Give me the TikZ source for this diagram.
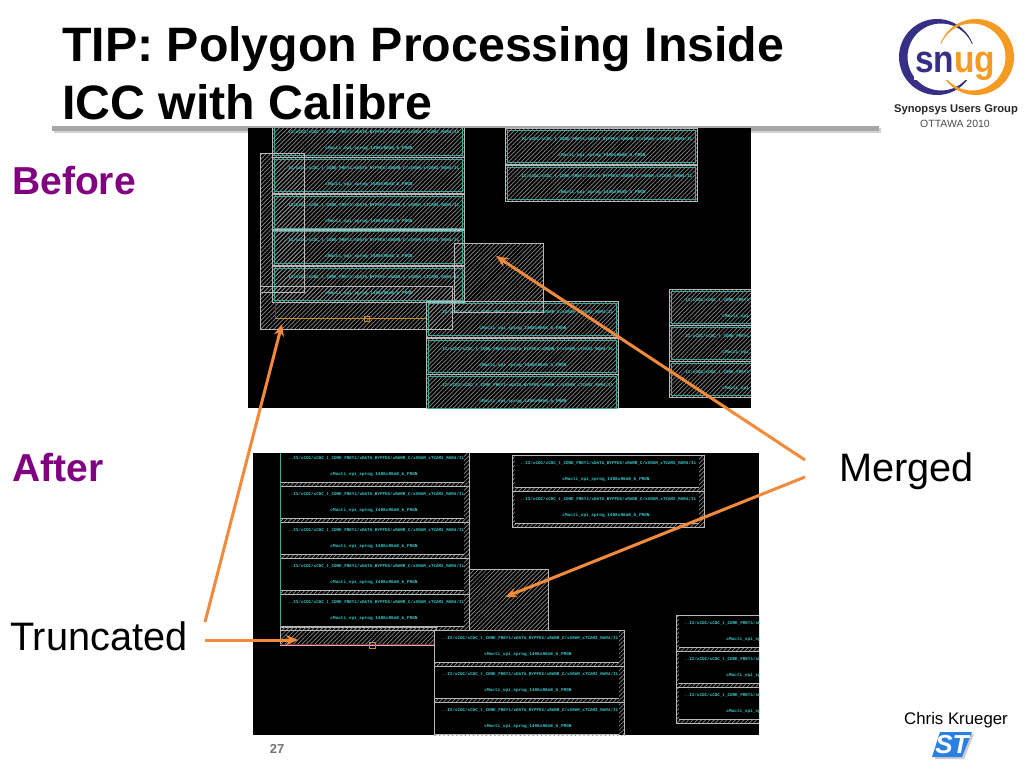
\documentclass[tikz,border=0pt]{standalone}
\usepackage{fontspec}
\setmainfont{Liberation Sans}
\setmonofont{Liberation Mono}
\usetikzlibrary{patterns.meta,arrows.meta}
\definecolor{hatchgray}{HTML}{8A8A8A}
\definecolor{edgegray}{HTML}{B8B8B8}
\definecolor{celltext}{HTML}{38CFCF}
\definecolor{cellline}{HTML}{3FA79C}
\definecolor{arroworange}{HTML}{F28A3A}
\definecolor{snugblue}{HTML}{352F85}
\definecolor{snugorange}{HTML}{F59A23}
\definecolor{titlepurple}{HTML}{800080}
\definecolor{stblue}{HTML}{2B80E6}
\definecolor{wirered}{HTML}{A0203C}
\definecolor{wireorange}{HTML}{C98A2A}
\tikzset{
  hatched/.style={draw=edgegray,line width=0.8pt,pattern={Lines[angle=45,distance=3pt,line width=0.7pt]},pattern color=hatchgray},
  pathtext/.style={text=celltext,font=\ttfamily\bfseries\fontsize{4.25}{5}\selectfont,anchor=west,inner sep=0pt},
  celltitle/.style={text=celltext,font=\ttfamily\bfseries\fontsize{4.4}{5}\selectfont,inner sep=0pt},
  sidelabel/.style={font=\fontsize{39.7}{42}\selectfont,anchor=base west,inner sep=0pt},
  stagelabel/.style={font=\bfseries\fontsize{39}{42}\selectfont,text=titlepurple,anchor=base west,inner sep=0pt},
  titleline/.style={font=\bfseries\fontsize{48.3}{52}\selectfont,anchor=base west,inner sep=0pt},
  callout/.style={draw=arroworange,line width=3pt,-{Stealth[length=12pt,width=10pt]}},
}
\newcommand{\pathstr}{..II/xCOC/xCOC\_t\_CORE\_FREY1/xDATA\_BYPFEX/xRARR\_C/xSRAM\_xTCAM2\_RAM4/I1}
\newcommand{\cellstr}{cMacti\_vpi\_sprog\_1408x96m8\_b\_FRGN}
\begin{document}
\begin{tikzpicture}[x=1pt,y=-1pt]
  \useasboundingbox (0,0) rectangle (1024,768);
  \fill [white] (0,0) rectangle (1024,768);

  % title
  \node [titleline] (title1) at (62,62) {TIP: Polygon Processing Inside};
  \node [titleline] (title2) at (62,119) {ICC with Calibre};
  \fill [black!18] (54,128) rectangle (881,133);
  \fill [black!35] (52,126) rectangle (879,131);

  % before
  \fill [black] (248,128) rectangle (751,408);
  \begin{scope}
    \clip (248,128) rectangle (751,408);
    \draw [hatched] (260,153) rectangle (304,292);
    \draw [hatched] (260,286) rectangle (452,329);
    \draw [hatched] (454,243) rectangle (543,312);
    \foreach \n/\x/\y in {a/272/121,b/272/157,c/272/194,d/272/229,e/272/266,
                          f/505/128,g/505/165,h/426/301,i/426/338,j/426/374,
                          k/669/289,l/669/325,m/669/361} {
      \draw [hatched] (\x,\y) rectangle +(192,36);
      \draw [cellline,line width=0.6pt] (\x+2,\y+2) rectangle +(188,32);
      \node [pathtext] (top\n) at (\x+11,\y+11) {\pathstr};
      \node [celltitle] (name\n) at (\x+97,\y+27) {\cellstr};
    }
    \draw [wirered,line width=0.7pt] (275,302) -- (275,318);
    \draw [wireorange,line width=0.7pt] (275,318) -- (426,318);
    \draw [wireorange,line width=0.6pt] (364,316) rectangle (369,321);
    \draw [edgegray,line width=0.7pt] (260,153) rectangle (304,292);
    \draw [edgegray,line width=0.7pt] (260,286) rectangle (452,329);
    \draw [edgegray,line width=0.7pt] (454,243) rectangle (543,312);
  \end{scope}

  % after
  \fill [black] (253,453) rectangle (759,735);
  \begin{scope}
    \clip (253,453) rectangle (759,735);
    \draw [hatched] (469,569) rectangle (548,630);
    \draw [hatched] (280,627) rectangle (436,645);
    \draw [wirered,line width=0.8pt] (280,644) -- (434,644);
    \draw [wireorange,line width=0.6pt] (369,642) rectangle (375,648);
    \foreach \n/\x/\y/\l/\w in {a/280/450/0/189,b/280/486/0/189,c/280/522/0/189,
                                d/280/558/0/189,e/280/594/0/189,
                                f/512/455/3/192,g/512/491/3/192,
                                h/434/630/1/190,i/434/666/1/190,j/434/702/1/190,
                                k/676/615/3/190,l/676/651/3/190,m/676/687/3/190} {
      \draw [hatched] (\x,\y) rectangle +(\w,36);
      \fill [black] (\x+\l,\y+0.6) rectangle (\x+\w-5,\y+32);
      \draw [edgegray,line width=0.6pt] (\x+\l,\y+32) -- (\x+\w-5,\y+32);
      \node [pathtext] (low\n) at (\x+8,\y+8) {\pathstr};
      \node [celltitle] (title\n) at (\x+94,\y+24) {\cellstr};
    }
    \draw [cellline,line width=0.6pt] (280,453) -- (280,627);
  \end{scope}

  % labels
  \node [stagelabel] (before) at (12,194) {Before};
  \node [stagelabel] (after) at (12,481) {After};
  \node [sidelabel] (truncated) at (10,650) {Truncated};
  \node [sidelabel] (merged) at (839,481) {Merged};
  \node [font=\bfseries\fontsize{13}{15}\selectfont,text=black!55,inner sep=0pt] (page) at (277,749) {27};

  % callouts
  \coordinate (truncA) at (205,622);
  \coordinate (truncB) at (205,640);
  \coordinate (mergeA) at (805,460);
  \coordinate (mergeB) at (805,477);
  \coordinate (tipA) at (282,324);
  \coordinate (tipB) at (298,640);
  \coordinate (tipC) at (496,256);
  \coordinate (tipD) at (505,597);
  \draw [callout] (truncA) -- (tipA);
  \draw [callout] (truncB) -- (tipB);
  \draw [callout] (mergeA) -- (tipC);
  \draw [callout] (mergeB) -- (tipD);

  % snug logo
  \fill [snugblue,even odd rule] (937,57) circle (38) (941,57) circle (33.5);
  \fill [snugorange,even odd rule] (976,57) circle (38) (972,57) circle (33.5);
  \fill [white] (914,44) rectangle (997,80);
  \node [font=\bfseries\fontsize{38}{40}\selectfont,inner sep=0pt,anchor=base,xscale=0.88] (snug) at (955,72)
    {\textcolor{snugblue}{sn}\textcolor{snugorange}{ug}};
  \node [font=\bfseries\fontsize{11.2}{13}\selectfont,text=black!85,inner sep=0pt] (group) at (956,110) {Synopsys Users Group};
  \node [font=\fontsize{10.5}{12}\selectfont,text=black!70,inner sep=0pt] (ottawa) at (955,124) {OTTAWA 2010};

  % footer
  \node [font=\fontsize{16.8}{18}\selectfont,inner sep=0pt] (author) at (956,720) {Chris Krueger};
  \fill [black!20] (935,759) -- (942,734) -- (974,734) -- (964,759) -- cycle;
  \fill [stblue] (932,757) -- (940,732) -- (972,732) -- (962,757) -- cycle;
  \node [font=\bfseries\itshape\fontsize{26}{28}\selectfont,text=white,inner sep=0pt] (stlogo) at (952,745) {ST};
\end{tikzpicture}
\end{document}
